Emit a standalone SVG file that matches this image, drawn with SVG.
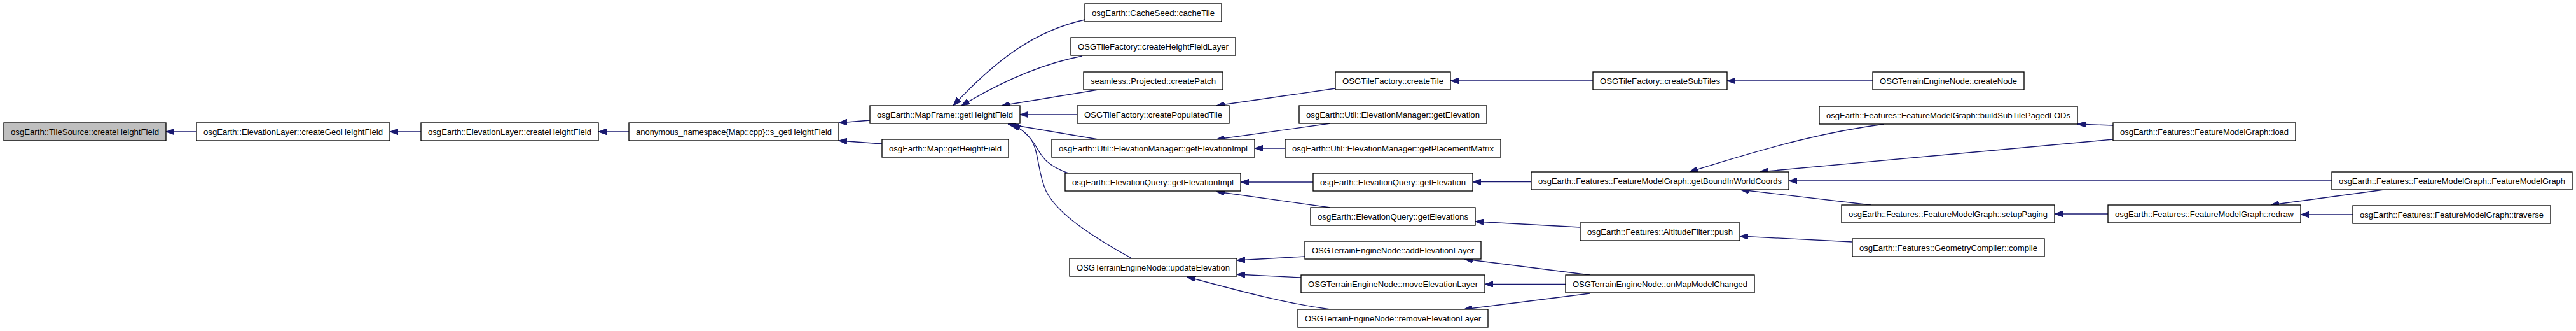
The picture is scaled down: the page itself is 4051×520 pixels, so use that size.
<svg xmlns="http://www.w3.org/2000/svg" width="4051" height="520" viewBox="0 0 4051 520">
<defs>
<style>
.n rect{fill:#ffffff;stroke:#000000;stroke-width:1.33}
.n.root rect{fill:#bfbfbf}
.n text{font-family:"Liberation Sans",Arial,Helvetica,sans-serif;font-size:13.33px;fill:#000000;text-anchor:middle}
.e path{fill:none;stroke:#191970;stroke-width:1.33;marker-end:url(#arr)}
</style>
<marker id="arr" markerUnits="userSpaceOnUse" viewBox="0 0 13 9.4" markerWidth="13" markerHeight="9.4" refX="13" refY="4.7" orient="auto">
<path d="M0,0 L13,4.7 L0,9.4 z" fill="#191970" stroke="#191970" stroke-width="1"/>
</marker>
</defs>
<rect x="0" y="0" width="4051" height="520" fill="#ffffff"/>
<g id="edges" class="e">
<path d="M309,207 L261,207"/>
<path d="M662,207 L613,207"/>
<path d="M989,207 L941,207"/>
<path d="M1368,189 L1319,193"/>
<path d="M1387,226 L1319,221"/>
<path d="M1706,31 C1630,48 1570,90 1499,166"/>
<path d="M1702,88 C1640,100 1580,125 1512,166"/>
<path d="M1727,141 L1575,166"/>
<path d="M1694,180 L1604,180"/>
<path d="M1727,219 L1585,195"/>
<path d="M1680,272 C1640,258 1636,240 1626,225 C1616,210 1606,202 1592,195"/>
<path d="M1780,406 C1700,362 1660,330 1645,300 C1632,272 1634,240 1622,220 C1614,208 1604,201 1589,195"/>
<path d="M2100,139 L1913,166"/>
<path d="M2092,194 L1913,219"/>
<path d="M2021,233 L1973,233"/>
<path d="M2065,286 L1951,286"/>
<path d="M2092,326 L1913,301"/>
<path d="M2052,403 L1945,409"/>
<path d="M2046,436 L1945,431"/>
<path d="M2092,486 C2020,476 1960,460 1867,435"/>
<path d="M2505,127 L2281,127"/>
<path d="M2945,127 L2716,127"/>
<path d="M2408,285.7 L2316,285.7"/>
<path d="M2485,357 L2320,348"/>
<path d="M2500,432 L2303,407"/>
<path d="M2462,446.5 L2335,446.5"/>
<path d="M2500,461 L2302,486"/>
<path d="M2963,195 C2880,206 2800,225 2657,270"/>
<path d="M3323,219 L2767,270"/>
<path d="M3323,197 L3267,195"/>
<path d="M3667,284 L2813,284"/>
<path d="M2942,322 L2737,298"/>
<path d="M2913,380 L2736,371"/>
<path d="M3315,336 L3231,336"/>
<path d="M3749,298 L3571,322"/>
<path d="M3700,337 L3618,337"/>
</g>
<g id="n1" class="n root"><rect x="6" y="193" width="255" height="28"/><text x="133.5" y="211.7" textLength="233" lengthAdjust="spacingAndGlyphs">osgEarth::TileSource::createHeightField</text></g>
<g id="n2" class="n"><rect x="309" y="193" width="304" height="28"/><text x="461" y="211.7" textLength="282" lengthAdjust="spacingAndGlyphs">osgEarth::ElevationLayer::createGeoHeightField</text></g>
<g id="n3" class="n"><rect x="662" y="193" width="279" height="28"/><text x="801.5" y="211.7" textLength="257" lengthAdjust="spacingAndGlyphs">osgEarth::ElevationLayer::createHeightField</text></g>
<g id="n4" class="n"><rect x="989" y="193" width="330" height="28"/><text x="1154" y="211.7" textLength="308" lengthAdjust="spacingAndGlyphs">anonymous_namespace{Map::cpp}::s_getHeightField</text></g>
<g id="n5" class="n"><rect x="1368" y="166" width="236" height="28"/><text x="1486" y="184.7" textLength="214" lengthAdjust="spacingAndGlyphs">osgEarth::MapFrame::getHeightField</text></g>
<g id="n6" class="n"><rect x="1387" y="219" width="199" height="28"/><text x="1486.5" y="237.7" textLength="177" lengthAdjust="spacingAndGlyphs">osgEarth::Map::getHeightField</text></g>
<g id="n7" class="n"><rect x="1706" y="6" width="215" height="28"/><text x="1813.5" y="24.7" textLength="193" lengthAdjust="spacingAndGlyphs">osgEarth::CacheSeed::cacheTile</text></g>
<g id="n8" class="n"><rect x="1684" y="59" width="259" height="28"/><text x="1813.5" y="77.7" textLength="237" lengthAdjust="spacingAndGlyphs">OSGTileFactory::createHeightFieldLayer</text></g>
<g id="n9" class="n"><rect x="1704" y="113" width="219" height="28"/><text x="1813.5" y="131.7" textLength="197" lengthAdjust="spacingAndGlyphs">seamless::Projected::createPatch</text></g>
<g id="n10" class="n"><rect x="1694" y="166" width="239" height="28"/><text x="1813.5" y="184.7" textLength="217" lengthAdjust="spacingAndGlyphs">OSGTileFactory::createPopulatedTile</text></g>
<g id="n11" class="n"><rect x="1654" y="219" width="319" height="28"/><text x="1813.5" y="237.7" textLength="297" lengthAdjust="spacingAndGlyphs">osgEarth::Util::ElevationManager::getElevationImpl</text></g>
<g id="n12" class="n"><rect x="1675" y="272" width="276" height="28"/><text x="1813" y="290.7" textLength="254" lengthAdjust="spacingAndGlyphs">osgEarth::ElevationQuery::getElevationImpl</text></g>
<g id="n13" class="n"><rect x="1682" y="406" width="263" height="28"/><text x="1813.5" y="424.7" textLength="241" lengthAdjust="spacingAndGlyphs">OSGTerrainEngineNode::updateElevation</text></g>
<g id="n14" class="n"><rect x="2100" y="113" width="181" height="28"/><text x="2190.5" y="131.7" textLength="159" lengthAdjust="spacingAndGlyphs">OSGTileFactory::createTile</text></g>
<g id="n15" class="n"><rect x="2043" y="166" width="295" height="28"/><text x="2190.5" y="184.7" textLength="273" lengthAdjust="spacingAndGlyphs">osgEarth::Util::ElevationManager::getElevation</text></g>
<g id="n16" class="n"><rect x="2021" y="219" width="339" height="28"/><text x="2190.5" y="237.7" textLength="317" lengthAdjust="spacingAndGlyphs">osgEarth::Util::ElevationManager::getPlacementMatrix</text></g>
<g id="n17" class="n"><rect x="2065" y="272" width="251" height="28"/><text x="2190.5" y="290.7" textLength="229" lengthAdjust="spacingAndGlyphs">osgEarth::ElevationQuery::getElevation</text></g>
<g id="n18" class="n"><rect x="2061" y="326" width="259" height="28"/><text x="2190.5" y="344.7" textLength="237" lengthAdjust="spacingAndGlyphs">osgEarth::ElevationQuery::getElevations</text></g>
<g id="n19" class="n"><rect x="2052" y="379" width="277" height="28"/><text x="2190.5" y="397.7" textLength="255" lengthAdjust="spacingAndGlyphs">OSGTerrainEngineNode::addElevationLayer</text></g>
<g id="n20" class="n"><rect x="2046" y="432" width="289" height="28"/><text x="2190.5" y="450.7" textLength="267" lengthAdjust="spacingAndGlyphs">OSGTerrainEngineNode::moveElevationLayer</text></g>
<g id="n21" class="n"><rect x="2041" y="486" width="299" height="28"/><text x="2190.5" y="504.7" textLength="277" lengthAdjust="spacingAndGlyphs">OSGTerrainEngineNode::removeElevationLayer</text></g>
<g id="n22" class="n"><rect x="2505" y="113" width="211" height="28"/><text x="2610.5" y="131.7" textLength="189" lengthAdjust="spacingAndGlyphs">OSGTileFactory::createSubTiles</text></g>
<g id="n23" class="n"><rect x="2408" y="270" width="405" height="28"/><text x="2610.5" y="288.7" textLength="383" lengthAdjust="spacingAndGlyphs">osgEarth::Features::FeatureModelGraph::getBoundInWorldCoords</text></g>
<g id="n24" class="n"><rect x="2485" y="350" width="251" height="28"/><text x="2610.5" y="368.7" textLength="229" lengthAdjust="spacingAndGlyphs">osgEarth::Features::AltitudeFilter::push</text></g>
<g id="n25" class="n"><rect x="2462" y="432" width="297" height="28"/><text x="2610.5" y="450.7" textLength="275" lengthAdjust="spacingAndGlyphs">OSGTerrainEngineNode::onMapModelChanged</text></g>
<g id="n26" class="n"><rect x="2945" y="113" width="238" height="28"/><text x="3064" y="131.7" textLength="216" lengthAdjust="spacingAndGlyphs">OSGTerrainEngineNode::createNode</text></g>
<g id="n27" class="n"><rect x="2861" y="167" width="406" height="28"/><text x="3064" y="185.7" textLength="384" lengthAdjust="spacingAndGlyphs">osgEarth::Features::FeatureModelGraph::buildSubTilePagedLODs</text></g>
<g id="n28" class="n"><rect x="2896" y="322" width="335" height="28"/><text x="3063.5" y="340.7" textLength="313" lengthAdjust="spacingAndGlyphs">osgEarth::Features::FeatureModelGraph::setupPaging</text></g>
<g id="n29" class="n"><rect x="2913" y="375" width="302" height="28"/><text x="3064" y="393.7" textLength="280" lengthAdjust="spacingAndGlyphs">osgEarth::Features::GeometryCompiler::compile</text></g>
<g id="n30" class="n"><rect x="3323" y="193" width="287" height="28"/><text x="3466.5" y="211.7" textLength="265" lengthAdjust="spacingAndGlyphs">osgEarth::Features::FeatureModelGraph::load</text></g>
<g id="n31" class="n"><rect x="3667" y="270" width="378" height="28"/><text x="3856" y="288.7" textLength="356" lengthAdjust="spacingAndGlyphs">osgEarth::Features::FeatureModelGraph::FeatureModelGraph</text></g>
<g id="n32" class="n"><rect x="3315" y="322" width="303" height="28"/><text x="3466.5" y="340.7" textLength="281" lengthAdjust="spacingAndGlyphs">osgEarth::Features::FeatureModelGraph::redraw</text></g>
<g id="n33" class="n"><rect x="3700" y="323" width="311" height="28"/><text x="3855.5" y="341.7" textLength="289" lengthAdjust="spacingAndGlyphs">osgEarth::Features::FeatureModelGraph::traverse</text></g>
</svg>
